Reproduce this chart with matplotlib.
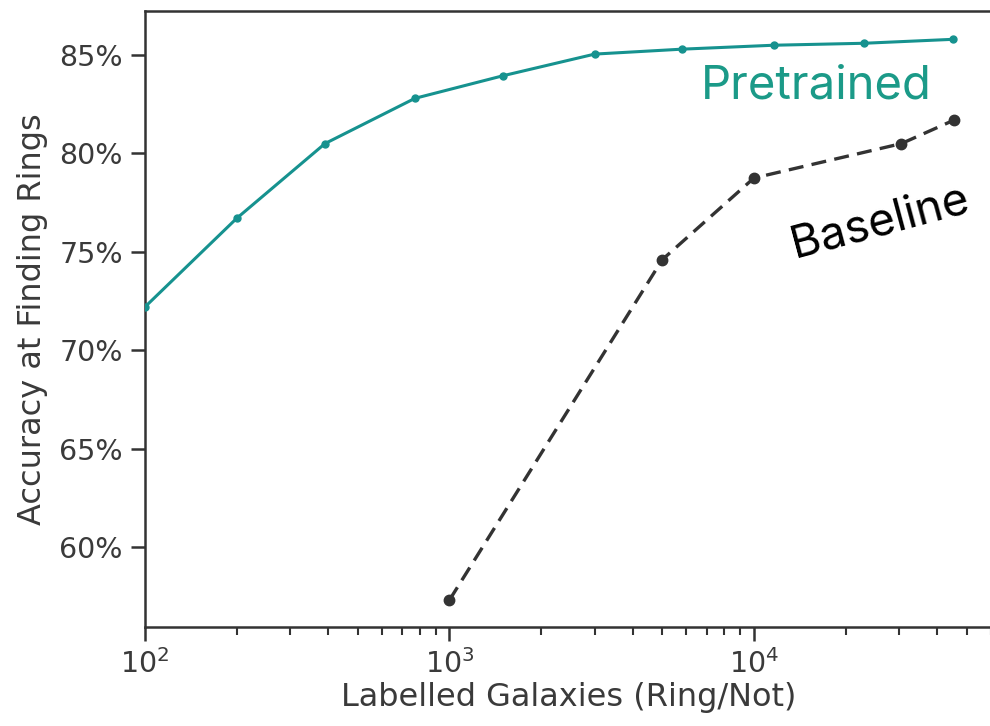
import matplotlib
matplotlib.use("Agg")
import matplotlib.pyplot as plt
from matplotlib.ticker import FuncFormatter, LogLocator

# Data
pretrained_n = [100, 200, 390, 770, 1500, 3000, 5800, 11600, 23000, 45000]
pretrained_acc = [72.2, 76.7, 80.5, 82.8, 83.95, 85.05, 85.3, 85.5, 85.6, 85.8]
baseline_n = [1000, 5000, 10000, 30500, 45500]
baseline_acc = [57.3, 74.6, 78.75, 80.5, 81.7]

teal = "#16928f"
label_teal = "#1b9a88"
dark = "#333333"

fig = plt.figure(figsize=(9.9, 7.26), dpi=100)
ax = fig.add_axes([145 / 990, 1 - 627 / 726, (993 - 145) / 990, (627 - 11) / 726])

ax.plot(pretrained_n, pretrained_acc, color=teal, lw=2.2, marker="o", ms=5, zorder=3)
ax.plot(baseline_n, baseline_acc, color=dark, lw=2.4, ls=(0, (4.5, 2.5)), marker="o", ms=7.5, zorder=3)

ax.set_xscale("log")
ax.set_xlim(100, 61000)
ax.set_ylim(55.93, 87.24)
ax.set_yticks([60, 65, 70, 75, 80, 85])
ax.yaxis.set_major_formatter(FuncFormatter(lambda v, p: f"{v:.0f}%"))
ax.xaxis.set_major_locator(LogLocator(base=10, numticks=10))
ax.xaxis.set_minor_locator(LogLocator(base=10, subs=range(2, 10), numticks=20))

for s in ax.spines.values():
    s.set_color(dark)
    s.set_linewidth(1.8)

ax.tick_params(axis="both", which="major", length=10, width=1.8, color=dark,
               labelsize=20.5, labelcolor="#3a3a3a", pad=6)
ax.tick_params(axis="x", which="minor", length=6, width=1.5, color=dark)

ax.set_xlabel("Labelled Galaxies (Ring/Not)", fontsize=23, color="#3a3a3a", labelpad=2)
ax.set_ylabel("Accuracy at Finding Rings", fontsize=23, color="#3a3a3a", labelpad=8)

ax.text(0.792, 0.877, "Pretrained", transform=ax.transAxes, fontsize=34,
        color=label_teal, family=["Inter", "DejaVu Sans"], ha="center", va="center")
ax.text(0.867, 0.657, "Baseline", transform=ax.transAxes, fontsize=33,
        color="black", family=["Inter", "DejaVu Sans"], ha="center", va="center",
        rotation=15, rotation_mode="anchor")

fig.savefig("out.png", dpi=100)
